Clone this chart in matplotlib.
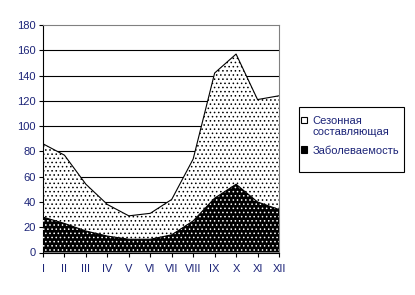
import numpy as np
import matplotlib
matplotlib.use("Agg")
import matplotlib.pyplot as plt
from matplotlib.patches import Patch, Rectangle
from matplotlib.legend_handler import HandlerPatch

# months (roman numerals) and values
months = ['I', 'II', 'III', 'IV', 'V', 'VI', 'VII', 'VIII', 'IX', 'X', 'XI', 'XII']
seasonal = [86, 77, 54, 38, 29, 31, 42, 74, 142, 157, 121, 124]   # upper (dotted) area
incidence = [28, 23, 17, 13, 10.5, 10.5, 14, 25, 43, 54, 40, 34]  # lower (black) area
yticks = [0, 20, 40, 60, 80, 100, 120, 140, 160, 180]

txt = '#1c2478'
fs = 8
plt.rcParams['font.family'] = ['Liberation Sans', 'DejaVu Sans']
plt.rcParams['hatch.linewidth'] = 0.6

fig = plt.figure(figsize=(4.15, 2.95), dpi=100)
ax = fig.add_axes([43/415, 1 - 252.5/295, 236/415, 227.5/295])

x = np.arange(len(months))

# gridlines
for v in yticks[1:-1]:
    ax.axhline(v, color='black', lw=0.8, zorder=1)

ax.fill_between(x, 0, seasonal, facecolor='white', edgecolor='black',
                hatch='....', linewidth=0, zorder=2)
ax.plot(x, seasonal, color='black', lw=0.8, zorder=3)
ax.fill_between(x, 0, incidence, facecolor='black', edgecolor='white',
                hatch='....', linewidth=0, zorder=4)
ax.plot(x, incidence, color='black', lw=0.8, zorder=5)

ax.set_xlim(0, len(months) - 1)
ax.set_ylim(0, 180)
ax.set_xticks(x)
ax.set_xticklabels(months)
ax.set_yticks(yticks)
ax.tick_params(axis='both', direction='out', length=3, width=0.8,
               labelsize=fs, labelcolor=txt, pad=2)
ax.tick_params(axis='x', pad=5)

for s in ['top', 'right']:
    ax.spines[s].set_color('#808080')
    ax.spines[s].set_linewidth(0.8)
for s in ['left', 'bottom']:
    ax.spines[s].set_color('black')
    ax.spines[s].set_linewidth(0.8)


# put the marker of a two-line label next to its first line
def top_patch(legend, orig_handle, xdescent, ydescent, width, height, fontsize):
    return Rectangle((-xdescent, -ydescent + 0.62 * fontsize), width, height)


# legend box
fig.patches.append(Rectangle((299/415, 1 - 172/295), 105/415, 65/295,
                             transform=fig.transFigure, facecolor='white',
                             edgecolor='black', lw=0.8))
h_seas = Patch(facecolor='white', edgecolor='black', lw=0.8)
h_inc = Patch(facecolor='black', edgecolor='black', lw=0.8)
leg = fig.legend([h_seas, h_inc], ['Сезонная\nсоставляющая', 'Заболеваемость'],
                 loc='upper left', bbox_to_anchor=(301/415, 1 - 116/295),
                 frameon=False, fontsize=fs, handlelength=0.5, handleheight=0.5,
                 handletextpad=0.55, labelspacing=0.75, borderpad=0, borderaxespad=0,
                 handler_map={h_seas: HandlerPatch(patch_func=top_patch)})
for t in leg.get_texts():
    t.set_color(txt)
    t.set_linespacing(1.15)

fig.savefig('out.png', dpi=100)
